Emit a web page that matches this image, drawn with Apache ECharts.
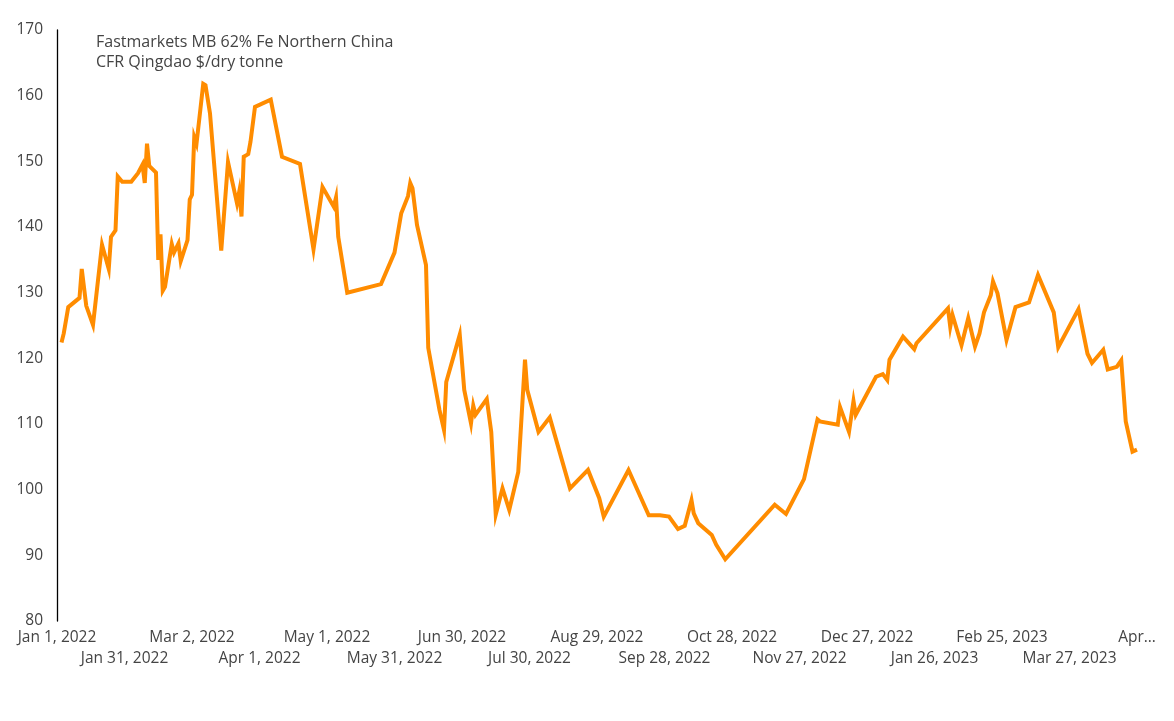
<!DOCTYPE html>
<html>
<head>
<meta charset="utf-8">
<script src="https://cdn.jsdelivr.net/npm/echarts@6/dist/echarts.min.js"></script>
<style>
html,body{margin:0;padding:0;background:#fff;}
#chart{width:1174px;height:721px;}
</style>
</head>
<body>
<div id="chart"></div>
<script>
var dates = [
"2022-01-03","2022-01-04","2022-01-06","2022-01-11","2022-01-12","2022-01-14","2022-01-17","2022-01-21","2022-01-24","2022-01-25",
"2022-01-27","2022-01-28","2022-01-30","2022-02-03","2022-02-06","2022-02-08","2022-02-09","2022-02-10","2022-02-11","2022-02-14",
"2022-02-15","2022-02-16","2022-02-17","2022-02-18","2022-02-21","2022-02-22","2022-02-24","2022-02-25","2022-02-28","2022-03-01",
"2022-03-02","2022-03-03","2022-03-04","2022-03-07","2022-03-08","2022-03-10","2022-03-15","2022-03-18","2022-03-22","2022-03-23",
"2022-03-24","2022-03-25","2022-03-27","2022-03-28","2022-03-30","2022-04-06","2022-04-11","2022-04-19","2022-04-25","2022-04-29",
"2022-05-04","2022-05-05","2022-05-06","2022-05-10","2022-05-25","2022-05-31","2022-06-03","2022-06-06","2022-06-07","2022-06-08",
"2022-06-10","2022-06-14","2022-06-15","2022-06-20","2022-06-22","2022-06-23","2022-06-29","2022-07-01","2022-07-04","2022-07-05",
"2022-07-06","2022-07-11","2022-07-13","2022-07-15","2022-07-18","2022-07-21","2022-07-25","2022-07-28","2022-07-29","2022-08-03",
"2022-08-08","2022-08-17","2022-08-25","2022-08-30","2022-09-01","2022-09-12","2022-09-21","2022-09-26","2022-09-30","2022-10-04",
"2022-10-07","2022-10-10","2022-10-11","2022-10-13","2022-10-19","2022-10-21","2022-10-25","2022-11-16","2022-11-21","2022-11-29",
"2022-12-05","2022-12-06","2022-12-14","2022-12-15","2022-12-19","2022-12-21","2022-12-22","2022-12-31","2023-01-03","2023-01-05",
"2023-01-06","2023-01-12","2023-01-17","2023-01-18","2023-02-01","2023-02-02","2023-02-03","2023-02-07","2023-02-10","2023-02-13",
"2023-02-15","2023-02-17","2023-02-20","2023-02-21","2023-02-23","2023-02-27","2023-03-03","2023-03-09","2023-03-13","2023-03-20",
"2023-03-22","2023-03-31","2023-04-04","2023-04-06","2023-04-11","2023-04-13","2023-04-17","2023-04-19","2023-04-21","2023-04-24",
"2023-04-26"
];
var prices = [
122.4,123.8,127.8,129.2,133.6,128.0,125.1,137.3,133.6,138.5,
139.5,147.7,146.9,146.9,148.2,149.5,146.7,152.7,149.3,148.3,
135.0,138.9,130.3,130.9,137.4,136.1,137.5,134.8,138.0,144.2,
144.9,153.7,152.7,161.8,161.6,157.3,136.4,149.9,143.6,145.4,
141.6,150.7,151.1,153.0,158.3,159.4,150.7,149.6,136.6,146.1,
143.1,144.5,138.5,130.0,131.3,136.1,142.1,144.7,146.7,145.9,
140.3,134.2,121.6,112.1,109.1,116.4,123.6,115.2,110.1,112.8,
111.4,113.8,108.8,96.2,100.2,96.9,102.7,119.8,115.2,108.8,
111.0,100.2,103.0,98.7,95.9,103.0,96.1,96.1,95.9,94.0,
94.5,98.4,96.4,94.9,93.1,91.6,89.4,97.7,96.3,101.6,
110.7,110.4,109.9,112.6,108.8,113.5,111.4,117.2,117.6,116.7,
119.8,123.3,121.4,122.3,127.6,124.8,126.6,122.0,126.1,121.8,
123.8,127.0,129.6,131.7,129.9,122.8,127.8,128.5,132.7,127.0,
121.7,127.5,120.7,119.3,121.3,118.3,118.7,119.7,110.4,105.8,
106.1
];
var xTickLabels = [
"Jan 1, 2022","Jan 31, 2022","Mar 2, 2022","Apr 1, 2022","May 1, 2022","May 31, 2022",
"Jun 30, 2022","Jul 30, 2022","Aug 29, 2022","Sep 28, 2022","Oct 28, 2022","Nov 27, 2022",
"Dec 27, 2022","Jan 26, 2023","Feb 25, 2023","Mar 27, 2023","Apr\u2026"
];
var chartTitle = "Fastmarkets MB 62% Fe Northern China\nCFR Qingdao $/dry tonne";

var DAY = 86400000;
function ts(s){ var p = s.split('-'); return Date.UTC(+p[0], +p[1]-1, +p[2]); }
var xMin = ts("2022-01-01");
var xStep = 30 * DAY;
var xMax = xMin + (xTickLabels.length - 1) * xStep;
var seriesData = dates.map(function(d, i){ return [ts(d), prices[i]]; });

var FONT = "'Open Sans', 'DejaVu Sans', sans-serif";
function makeXAxis(parity, margin){
  return {
    type: 'value', position: 'bottom',
    min: xMin, max: xMax, interval: xStep,
    axisLine: { show: false },
    axisTick: { show: false },
    splitLine: { show: false },
    axisLabel: {
      show: true, margin: margin, color: '#444444', fontSize: 15.5, fontFamily: FONT,
      showMinLabel: true, showMaxLabel: true, hideOverlap: false,
      formatter: function(v){
        var i = Math.round((v - xMin) / xStep);
        return (i % 2 === parity) ? (xTickLabels[i] || '') : '';
      }
    }
  };
}
var chart = echarts.init(document.getElementById('chart'), null, {renderer:'canvas'});
chart.setOption({
  animation: false,
  backgroundColor: '#ffffff',
  textStyle: { fontFamily: FONT },
  title: {
    text: chartTitle,
    left: 91, top: 27,
    textStyle: { fontFamily: FONT, fontSize: 16, fontWeight: 'normal', color: '#444444', lineHeight: 20 }
  },
  grid: { left: 57, right: 37, top: 30, bottom: 100, containLabel: false },
  xAxis: [makeXAxis(0, 9), makeXAxis(1, 30)],
  yAxis: {
    type: 'value', min: 80, max: 170, interval: 10,
    axisLine: { show: true, lineStyle: { color: '#000000', width: 1.3 } },
    axisTick: { show: false },
    splitLine: { show: false },
    axisLabel: { color: '#444444', fontSize: 15.5, fontFamily: FONT, margin: 14 }
  },
  series: [{
    type: 'line',
    xAxisIndex: 0,
    data: seriesData,
    showSymbol: false,
    symbol: 'none',
    lineStyle: { color: '#FF8C00', width: 4, join: 'miter' },
    itemStyle: { color: '#FF8C00' }
  }]
});
</script>
</body>
</html>
